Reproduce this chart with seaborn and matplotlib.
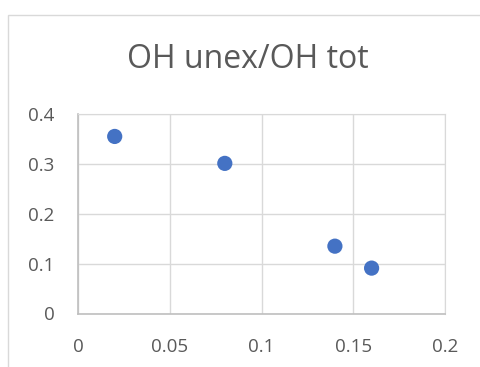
import matplotlib
matplotlib.use("Agg")
import matplotlib.pyplot as plt
import seaborn as sns
import pandas as pd
from matplotlib.patches import Rectangle

x_vals = [0.02, 0.08, 0.14, 0.16]
y_vals = [0.355, 0.301, 0.135, 0.091]
x_ticks = [0, 0.05, 0.1, 0.15, 0.2]
x_labels = ["0", "0.05", "0.1", "0.15", "0.2"]
y_ticks = [0, 0.1, 0.2, 0.3, 0.4]
y_labels = ["0", "0.1", "0.2", "0.3", "0.4"]
title = "OH unex/OH tot"

sns.set_style("white")
plt.rcParams["font.family"] = ["Open Sans", "DejaVu Sans"]

df = pd.DataFrame({"x": x_vals, "y": y_vals})

fig = plt.figure(figsize=(4.8, 3.67), dpi=100)
# chart border (cropped at right and bottom)
fig.patches.append(Rectangle((8 / 480, -0.1), 1.2, (367 - 15) / 367 + 0.1,
                             transform=fig.transFigure, fill=False,
                             edgecolor="#d9d9d9", linewidth=1.0))
ax = fig.add_axes([78 / 480, (367 - 313.5) / 367, (445 - 78) / 480, (313.5 - 114) / 367])

sns.scatterplot(data=df, x="x", y="y", ax=ax, color="#4472C4", s=120,
                edgecolor="none", zorder=3)

ax.set_xlim(0, 0.2)
ax.set_ylim(0, 0.4)
ax.set_xticks(x_ticks)
ax.set_xticklabels(x_labels)
ax.set_yticks(y_ticks)
ax.set_yticklabels(y_labels)
ax.grid(True, color="#d9d9d9", linewidth=1.0)
ax.set_axisbelow(True)
for side in ["top", "right"]:
    ax.spines[side].set_color("#d9d9d9")
for side in ["left", "bottom"]:
    ax.spines[side].set_color("#bfbfbf")
    ax.spines[side].set_linewidth(1.2)
ax.tick_params(axis="both", length=0, labelsize=13.5, colors="#595959")
ax.tick_params(axis="x", pad=17.5)
ax.tick_params(axis="y", pad=17)
ax.set_xlabel("")
ax.set_ylabel("")

fig.text(247.5 / 480, 1 - 59 / 367, title, ha="center", va="center",
         fontsize=23, color="#595959")

fig.savefig("out.png", dpi=100)
